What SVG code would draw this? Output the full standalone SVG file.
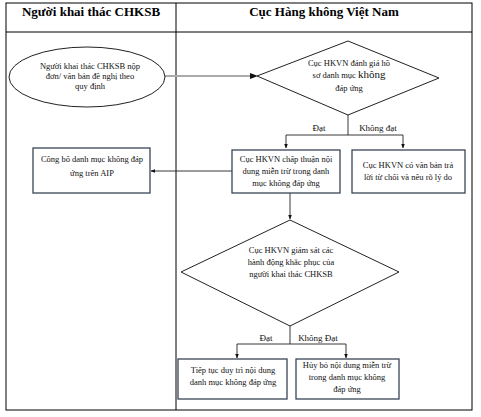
<svg xmlns="http://www.w3.org/2000/svg" width="481" height="417" viewBox="0 0 481 417">
<defs>
<style>
.hd{font-family:"Liberation Serif","Times New Roman",serif;font-size:13px;font-weight:bold;fill:#000;text-anchor:middle}
.t{font-family:"Liberation Serif","Times New Roman",serif;font-size:8.5px;fill:#111;text-anchor:middle}
.lb{font-family:"Liberation Serif","Times New Roman",serif;font-size:9px;fill:#111;text-anchor:middle}
.box{fill:#fff;stroke:#3a4656;stroke-width:1.3}
.sh{fill:#fff;stroke:#222;stroke-width:1}
.ln{fill:none;stroke:#222;stroke-width:0.9}
.gl{fill:none;stroke:#aaa;stroke-width:1.8}
.grid{fill:none;stroke:#000;stroke-width:1}
</style>
<marker id="ah" viewBox="0 0 10 10" refX="9" refY="5" markerWidth="5" markerHeight="5" orient="auto">
<path d="M0,1 L10,5 L0,9 Z" fill="#111"/>
</marker>
</defs>
<rect x="0" y="0" width="481" height="417" fill="#fff"/>
<g id="table">
<rect class="grid" x="6" y="3" width="466" height="407"/>
<line class="grid" x1="176" y1="3" x2="176" y2="410"/>
<line class="grid" x1="6" y1="32" x2="472" y2="32"/>
<text class="hd" x="91" y="16">Người khai thác CHKSB</text>
<text class="hd" x="324" y="16">Cục Hàng không Việt Nam</text>
</g>
<g id="connectors">
<line class="gl" x1="165" y1="76" x2="250" y2="76"/>
<path d="M258,76 L250,73 L250,79 Z" fill="#111"/>
<polyline class="ln" points="348,115 348,135"/>
<line class="ln" x1="286" y1="135" x2="403" y2="135"/>
<line class="ln" x1="286" y1="135" x2="286" y2="148" marker-end="url(#ah)"/>
<line class="ln" x1="403" y1="135" x2="403" y2="148" marker-end="url(#ah)"/>
<line class="ln" x1="232" y1="171" x2="151" y2="171" marker-end="url(#ah)"/>
<line class="ln" x1="290" y1="193" x2="290" y2="219" marker-end="url(#ah)"/>
<line class="ln" x1="290" y1="326" x2="290" y2="344"/>
<line class="ln" x1="237" y1="344" x2="346" y2="344"/>
<line class="ln" x1="237" y1="344" x2="237" y2="358" marker-end="url(#ah)"/>
<line class="ln" x1="346" y1="344" x2="346" y2="358" marker-end="url(#ah)"/>
<text class="lb" x="319" y="131">Đạt</text>
<text class="lb" x="378" y="131">Không đạt</text>
<text class="lb" x="266" y="341">Đạt</text>
<text class="lb" x="318" y="341">Không Đạt</text>
</g>
<g id="n_start">
<ellipse class="sh" cx="87" cy="77" rx="78" ry="30"/>
<text class="t" x="90" y="69">Người khai thác CHKSB nộp</text>
<text class="t" x="90" y="79">đơn/ văn bản đề nghị theo</text>
<text class="t" x="90" y="89">quy định</text>
</g>
<g id="n_eval">
<polygon class="sh" points="348,41 439,78 348,115 257,76"/>
<text class="t" x="349" y="66">Cục HKVN đánh giá hồ</text>
<text class="t" x="349" y="78">sơ danh mục <tspan font-size="11px">không</tspan></text>
<text class="t" x="349" y="91">đáp ứng</text>
</g>
<g id="n_approve">
<rect class="box" x="232" y="150" width="108" height="43"/>
<text class="t" x="286" y="162">Cục HKVN chấp thuận nội</text>
<text class="t" x="286" y="174">dung miễn trừ trong danh</text>
<text class="t" x="286" y="186">mục không đáp ứng</text>
</g>
<g id="n_reject">
<rect class="box" x="352" y="150" width="113" height="43"/>
<text class="t" x="408" y="168">Cục HKVN có văn bản trả</text>
<text class="t" x="408" y="180">lời từ chối và nêu rõ lý do</text>
</g>
<g id="n_publish">
<rect class="box" x="33" y="148" width="117" height="45"/>
<text class="t" x="92" y="162">Công bố danh mục không đáp</text>
<text class="t" x="92" y="176">ứng trên AIP</text>
</g>
<g id="n_monitor">
<polygon class="sh" points="290,220 399,272 290,326 181,272"/>
<text class="t" x="291" y="253">Cục HKVN giám sát các</text>
<text class="t" x="291" y="265">hành động khắc phục của</text>
<text class="t" x="291" y="277">người khai thác CHKSB</text>
</g>
<g id="n_keep">
<rect class="box" x="178" y="359" width="109" height="40"/>
<text class="t" x="233" y="373">Tiếp tục duy trì nội dung</text>
<text class="t" x="233" y="385">danh mục không đáp ứng</text>
</g>
<g id="n_cancel">
<rect class="box" x="296" y="359" width="103" height="40"/>
<text class="t" x="347" y="368">Hủy bỏ nội dung miễn trừ</text>
<text class="t" x="347" y="380">trong danh mục không</text>
<text class="t" x="347" y="392">đáp ứng</text>
</g>
</svg>
